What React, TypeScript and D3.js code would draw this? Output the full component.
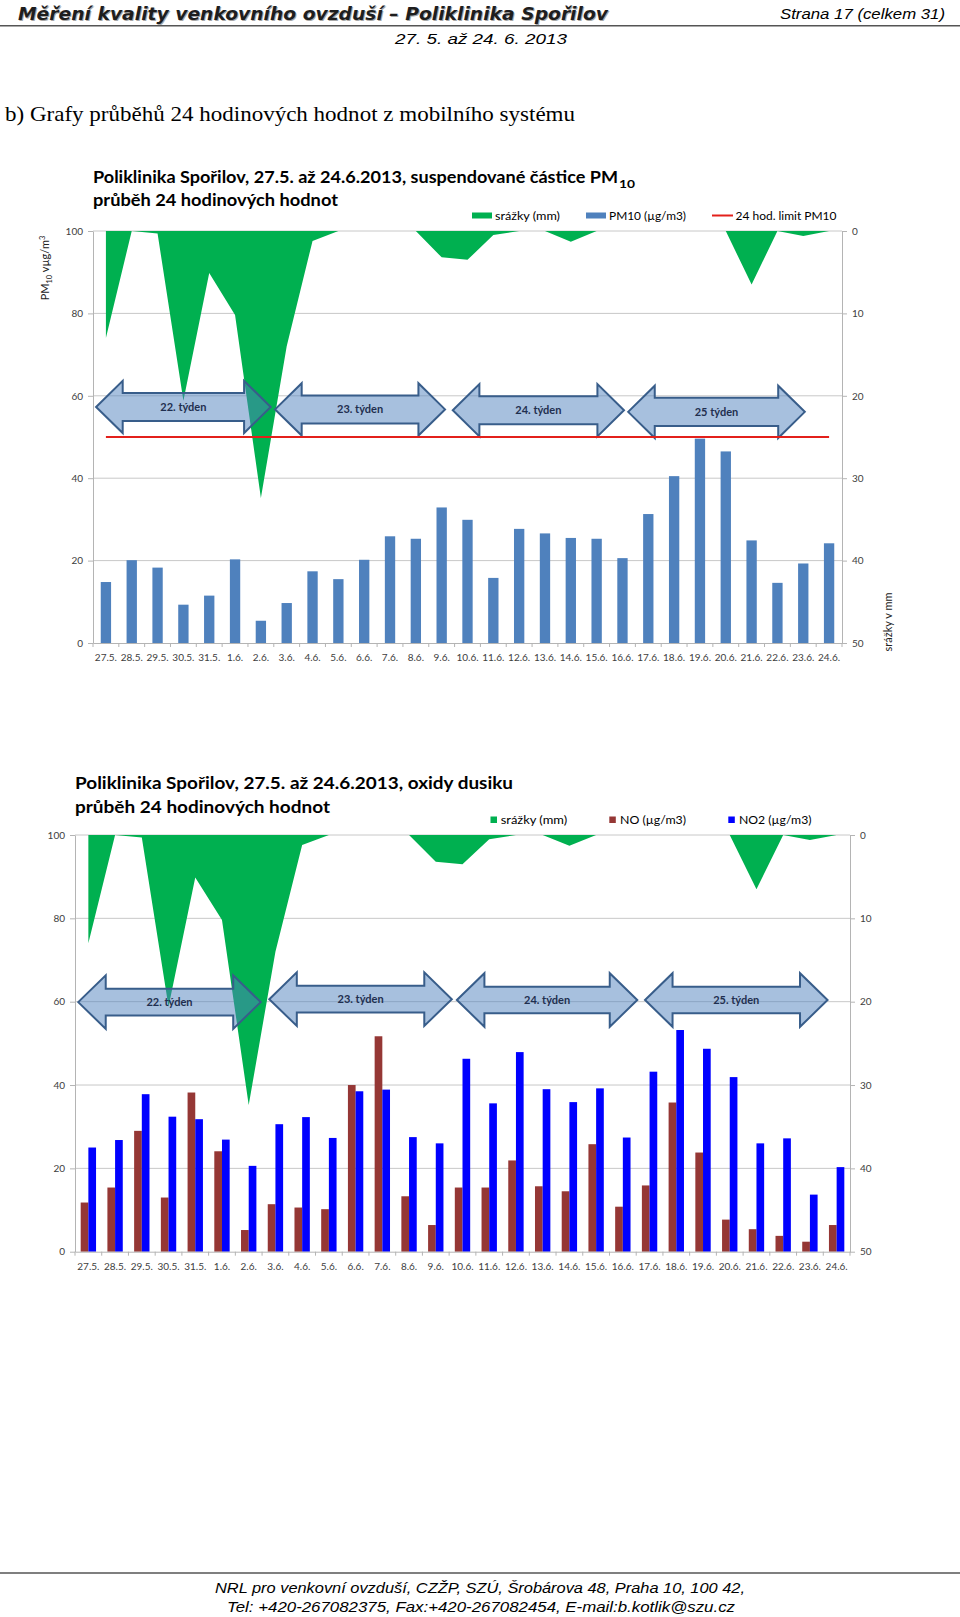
import React, { useRef, useEffect } from "react";
import * as d3 from "d3";

// ===== data =====
const days = ["27.5.", "28.5.", "29.5.", "30.5.", "31.5.", "1.6.", "2.6.", "3.6.", "4.6.", "5.6.", "6.6.", "7.6.", "8.6.", "9.6.", "10.6.", "11.6.", "12.6.", "13.6.", "14.6.", "15.6.", "16.6.", "17.6.", "18.6.", "19.6.", "20.6.", "21.6.", "22.6.", "23.6.", "24.6."];

// srážky (mm) – pravá osa, obrácená
const srazky = [13.0, 0, 0.3, 20.6, 5.1, 10.2, 32.4, 14.0, 1.2, 0, 0, 0, 0, 3.2, 3.5, 0.5, 0, 0, 1.3, 0, 0, 0, 0, 0, 0, 6.5, 0, 0.6, 0];

// PM10 (µg/m3)
const pm10 = [14.8, 20.1, 18.3, 9.3, 11.5, 20.3, 5.4, 9.7, 17.4, 15.5, 20.2, 25.9, 25.3, 32.9, 29.9, 15.8, 27.7, 26.6, 25.5, 25.3, 20.6, 31.3, 40.5, 49.6, 46.5, 24.9, 14.6, 19.3, 24.2];

// NO a NO2 (µg/m3)
const no = [11.8, 15.4, 29.0, 13.0, 38.2, 24.1, 5.2, 11.4, 10.6, 10.2, 40.0, 51.7, 13.3, 6.4, 15.4, 15.4, 21.9, 15.7, 14.5, 25.8, 10.8, 15.9, 35.8, 23.8, 7.7, 5.4, 3.8, 2.4, 6.4];
const no2 = [25.0, 26.8, 37.8, 32.4, 31.8, 26.9, 20.6, 30.6, 32.3, 27.3, 38.5, 38.9, 27.5, 26.0, 46.3, 35.6, 47.9, 39.0, 35.9, 39.2, 27.4, 43.2, 53.2, 48.7, 41.9, 26.0, 27.2, 13.7, 20.3];

const pmLimit = 50;

const leftTicks = [0, 20, 40, 60, 80, 100];
const rightTicks = [0, 10, 20, 30, 40, 50];

type Week = { label: string; from: number; to: number; y: number };

// šipky týdnů: from/to v jednotkách kategorií, y v µg/m3
const pmWeeks: Week[] = [
  { label: "22. týden", from: 0.12, to: 6.88, y: 57.3 },
  { label: "23. týden", from: 7.05, to: 13.63, y: 56.7 },
  { label: "24. týden", from: 13.93, to: 20.56, y: 56.5 },
  { label: "25 týden", from: 20.72, to: 27.56, y: 56.1 },
];
const noxWeeks: Week[] = [
  { label: "22. týden", from: 0.12, to: 6.95, y: 59.9 },
  { label: "23. týden", from: 7.27, to: 14.1, y: 60.6 },
  { label: "24. týden", from: 14.29, to: 21.04, y: 60.4 },
  { label: "25. týden", from: 21.33, to: 28.16, y: 60.4 },
];

const FONT = "Lato, 'Noto Sans', sans-serif";
const GREEN = "#00b050";
const GRID = "#c8c8c8";
const AXIS = "#b4b4b4";

type BarSeries = { key: string; values: number[]; color: string };
type ChartOpt = {
  left: number; right: number; top: number; bottom: number;
  bars: BarSeries[]; groupFrac: number;
  weeks: Week[]; headHalf: number; shaftHalf: number;
  limit?: number;
};

type Sel = d3.Selection<any, unknown, null, undefined>;

function drawChart(g: Sel, o: ChartOpt) {
  const n = days.length;
  const pad = 1 - o.groupFrac;
  const x = d3.scaleBand<string>().domain(days).range([o.left, o.right])
    .paddingInner(pad).paddingOuter(pad / 2);
  const xc = (d: string) => (x(d) as number) + x.bandwidth() / 2;
  const xs = d3.scaleBand<string>().domain(o.bars.map((b) => b.key)).range([0, x.bandwidth()]);
  const u = d3.scaleLinear().domain([0, n]).range([o.left, o.right]);
  const yL = d3.scaleLinear().domain([0, 100]).range([o.bottom, o.top]);
  const yR = d3.scaleLinear().domain([0, 50]).range([o.top, o.bottom]);

  // mřížka
  g.append("g").selectAll("line").data(leftTicks.slice(1)).join("line")
    .attr("x1", o.left).attr("x2", o.right)
    .attr("y1", (d) => yL(d)).attr("y2", (d) => yL(d))
    .attr("stroke", GRID).attr("stroke-width", 1);

  // srážky
  const area = d3.area<number>()
    .x((_, i) => xc(days[i]))
    .y0(o.top)
    .y1((d) => yR(d));
  g.append("path").datum(srazky).attr("d", area).attr("fill", GREEN);

  // sloupce
  o.bars.forEach((b) => {
    g.append("g").selectAll("rect").data(b.values).join("rect")
      .attr("x", (_, i) => (x(days[i]) as number) + (xs(b.key) as number))
      .attr("y", (d) => yL(d))
      .attr("width", xs.bandwidth())
      .attr("height", (d) => yL(0) - yL(d))
      .attr("fill", b.color);
  });

  // šipky týdnů
  const headLen = u(1.03) - u(0);
  o.weeks.forEach((w) => {
    const x1 = u(w.from), x2 = u(w.to), yc = yL(w.y);
    const H = yL(0) - yL(o.headHalf), S = yL(0) - yL(o.shaftHalf);
    const pts: [number, number][] = [
      [x1, yc], [x1 + headLen, yc - H], [x1 + headLen, yc - S], [x2 - headLen, yc - S],
      [x2 - headLen, yc - H], [x2, yc], [x2 - headLen, yc + H], [x2 - headLen, yc + S],
      [x1 + headLen, yc + S], [x1 + headLen, yc + H],
    ];
    g.append("path")
      .attr("d", (d3.line()(pts) as string) + "Z")
      .attr("fill", "#4f81bd").attr("fill-opacity", 0.5)
      .attr("stroke", "#385d8a").attr("stroke-width", 2).attr("stroke-linejoin", "miter");
    g.append("text")
      .attr("x", (x1 + x2) / 2).attr("y", yc).attr("dy", "0.35em")
      .attr("text-anchor", "middle")
      .attr("font-family", FONT).attr("font-weight", "bold").attr("font-size", 11)
      .attr("fill", "#1f2f4f")
      .text(w.label);
  });

  // limit
  if (o.limit != null) {
    g.append("line")
      .attr("x1", xc(days[0])).attr("x2", xc(days[n - 1]))
      .attr("y1", yL(o.limit)).attr("y2", yL(o.limit))
      .attr("stroke", "#e3201b").attr("stroke-width", 2);
  }

  // osy
  const axL = g.append("g").attr("transform", `translate(${o.left},0)`)
    .call(d3.axisLeft(yL).tickValues(leftTicks).tickSize(5).tickSizeOuter(0).tickPadding(5));
  const axR = g.append("g").attr("transform", `translate(${o.right},0)`)
    .call(d3.axisRight(yR).tickValues(rightTicks).tickSize(5).tickSizeOuter(0).tickPadding(5));
  const axB = g.append("g").attr("transform", `translate(0,${o.bottom})`)
    .call(d3.axisBottom(x).tickSize(0).tickSizeOuter(0).tickPadding(11));
  [axL, axR, axB].forEach((ax) => {
    ax.attr("font-family", FONT).attr("font-size", 10);
    ax.select(".domain").attr("stroke", AXIS);
    ax.selectAll(".tick line").attr("stroke", AXIS);
    ax.selectAll("text").attr("fill", "#404040");
  });
  g.append("g").selectAll("line").data(d3.range(n + 1)).join("line")
    .attr("x1", (d) => u(d)).attr("x2", (d) => u(d))
    .attr("y1", o.bottom).attr("y2", o.bottom + 4)
    .attr("stroke", AXIS);
}

function txt(g: Sel, x: number, y: number, s: string, size: number, len?: number, extra: Record<string, any> = {}) {
  const t = g.append("text").attr("x", x).attr("y", y)
    .attr("font-family", FONT).attr("font-size", size).attr("fill", "#000").text(s);
  if (len) t.attr("textLength", len).attr("lengthAdjust", "spacingAndGlyphs");
  Object.entries(extra).forEach(([k, v]) => t.attr(k, v));
  return t;
}

function drawPage(svg: Sel) {
  svg.append("rect").attr("width", 960).attr("height", 1617).attr("fill", "#fff");

  // hlavička
  const head = "Měření kvality venkovního ovzduší – Poliklinika Spořilov";
  const hf = { "font-family": "'DejaVu Sans', sans-serif", "font-weight": "bold", "font-style": "italic" };
  txt(svg, 19, 20.5, head, 17, 590, { ...hf, fill: "#a8a8a8" });
  txt(svg, 18, 19.5, head, 17, 590, { ...hf, fill: "#1e1e1e" });
  txt(svg, 945, 18.5, "Strana 17 (celkem 31)", 14, 165,
    { "font-family": "'Liberation Sans', Arial, sans-serif", "font-style": "italic", "text-anchor": "end" });
  svg.append("line").attr("x1", 0).attr("x2", 960).attr("y1", 25.8).attr("y2", 25.8)
    .attr("stroke", "#555").attr("stroke-width", 1.6);
  txt(svg, 481, 44, "27. 5. až 24. 6. 2013", 15, 172,
    { "font-family": "'Liberation Sans', Arial, sans-serif", "font-style": "italic", "text-anchor": "middle" });
  txt(svg, 5, 121, "b) Grafy průběhů 24 hodinových hodnot z mobilního systému", 21, 570,
    { "font-family": "'Liberation Serif', 'Times New Roman', serif" });

  // patička
  svg.append("line").attr("x1", 0).attr("x2", 960).attr("y1", 1573).attr("y2", 1573)
    .attr("stroke", "#555").attr("stroke-width", 1.6);
  const ff = { "font-family": "'Liberation Sans', Arial, sans-serif", "font-style": "italic", "text-anchor": "middle" };
  txt(svg, 480, 1593, "NRL pro venkovní ovzduší, CZŽP, SZÚ, Šrobárova 48, Praha 10, 100 42,", 15.5, 530, ff);
  txt(svg, 481, 1611.5, "Tel: +420-267082375, Fax:+420-267082454, E-mail:b.kotlik@szu.cz", 15.5, 508, ff);

  // ===== graf PM10 – texty =====
  const bold = { "font-weight": "bold" };
  txt(svg, 93, 183, "Poliklinika Spořilov, 27.5. až 24.6.2013, suspendované částice PM", 17.5, 525, bold);
  txt(svg, 619, 187.5, "10", 11, 16, bold);
  txt(svg, 93, 205.5, "průběh 24 hodinových hodnot", 17.5, 245, bold);

  svg.append("rect").attr("x", 472).attr("y", 212.5).attr("width", 20).attr("height", 6).attr("fill", GREEN);
  txt(svg, 495, 219.5, "srážky (mm)", 12, 65);
  svg.append("rect").attr("x", 586).attr("y", 212.5).attr("width", 20).attr("height", 6).attr("fill", "#4f81bd");
  txt(svg, 609, 219.5, "PM10 (µg/m3)", 12, 77);
  svg.append("line").attr("x1", 712).attr("x2", 733).attr("y1", 215.5).attr("y2", 215.5)
    .attr("stroke", "#e3201b").attr("stroke-width", 2);
  txt(svg, 735.5, 219.5, "24 hod. limit PM10", 12, 101);

  // osa Y popis
  const yt = svg.append("text").attr("transform", "translate(49,268) rotate(-90)")
    .attr("text-anchor", "middle").attr("font-family", FONT).attr("font-size", 11).attr("fill", "#222");
  yt.append("tspan").text("PM");
  yt.append("tspan").attr("font-size", 7.5).attr("dy", 2.5).text("10");
  yt.append("tspan").attr("dy", -2.5).text(" vµg/m");
  yt.append("tspan").attr("font-size", 7.5).attr("dy", -4).text("3");
  svg.append("text").attr("transform", "translate(892,622) rotate(-90)")
    .attr("text-anchor", "middle").attr("font-family", FONT).attr("font-size", 11).attr("fill", "#222")
    .text("srážky v mm");

  // ===== graf NOx – texty =====
  txt(svg, 75, 788.5, "Poliklinika Spořilov, 27.5. až 24.6.2013, oxidy dusiku", 17.5, 438, bold);
  txt(svg, 75, 812.5, "průběh 24 hodinových hodnot", 17.5, 255, bold);

  svg.append("rect").attr("x", 490.5).attr("y", 816.5).attr("width", 6.5).attr("height", 6.5).attr("fill", GREEN);
  txt(svg, 500.7, 824, "srážky (mm)", 12, 66.5);
  svg.append("rect").attr("x", 609.3).attr("y", 816.5).attr("width", 6.5).attr("height", 6.5).attr("fill", "#953735");
  txt(svg, 620, 824, "NO (µg/m3)", 12, 66);
  svg.append("rect").attr("x", 728.3).attr("y", 816.5).attr("width", 6.5).attr("height", 6.5).attr("fill", "#0000ff");
  txt(svg, 739, 824, "NO2 (µg/m3)", 12, 72.5);
}

const App: React.FC = () => {
  const svgRef = useRef<SVGSVGElement | null>(null);

  useEffect(() => {
    const svg = d3.select(svgRef.current) as unknown as Sel;
    svg.selectAll("*").remove();
    drawPage(svg);

    drawChart(svg.append("g"), {
      left: 93, right: 842, top: 231, bottom: 643,
      bars: [{ key: "pm10", values: pm10, color: "#4f81bd" }],
      groupFrac: 0.4,
      weeks: pmWeeks, headHalf: 6.35, shaftHalf: 3.4,
      limit: pmLimit,
    });

    drawChart(svg.append("g"), {
      left: 75, right: 850, top: 835, bottom: 1251.7,
      bars: [
        { key: "no", values: no, color: "#953735" },
        { key: "no2", values: no2, color: "#0000ff" },
      ],
      groupFrac: 0.575,
      weeks: noxWeeks, headHalf: 6.43, shaftHalf: 3.2,
    });
  }, []);

  return (
    <svg
      ref={svgRef}
      width={960}
      height={1617}
      style={{ position: "absolute", left: 0, top: 0 }}
    />
  );
};

export default App;
